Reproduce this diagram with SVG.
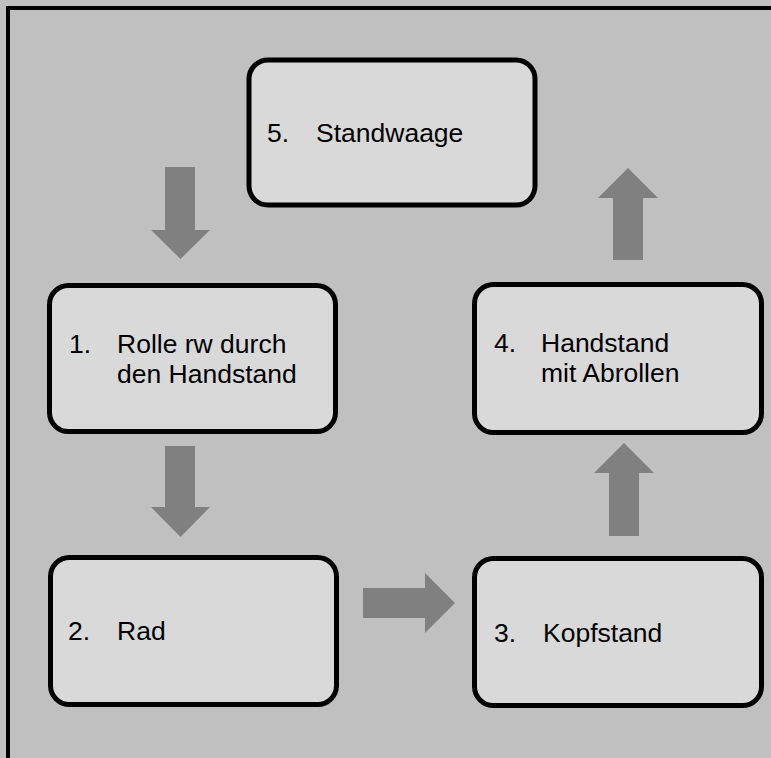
<svg xmlns="http://www.w3.org/2000/svg" width="771" height="758" viewBox="0 0 771 758">
<style>
.box{fill:#d9d9d9;stroke:#000;stroke-width:5}
.arr{fill:#808080}
text{font-family:"Liberation Sans",Arial,sans-serif;font-size:26.5px;fill:#000}
</style>
<rect x="0" y="0" width="771" height="758" fill="#c0c0c0"/>
<rect x="8" y="8" width="800" height="800" fill="#c0c0c0" stroke="#000" stroke-width="4"/>
<g id="connectors">
<polygon class="arr" points="165,167 195,167 195,230 210,230 180.5,259 151,230 165,230"/>
<polygon class="arr" points="165,446 195,446 195,507 210,507 180.5,537 151,507 165,507"/>
<polygon class="arr" points="363,588 425,588 425,573 455,603 425,633 425,618 363,618"/>
<polygon class="arr" points="609,536 639,536 639,473 654,473 624,443 594,473 609,473"/>
<polygon class="arr" points="613,260 643,260 643,198 658,198 628,168 598,198 613,198"/>
</g>
<g id="node5">
<rect class="box" x="249" y="60" width="286" height="145" rx="19"/>
<text x="267" y="142">5.</text>
<text x="316" y="142">Standwaage</text>
</g>
<g id="node1">
<rect class="box" x="49.5" y="285.5" width="286" height="146" rx="19"/>
<text x="69" y="353">1.</text>
<text x="117" y="353">Rolle rw durch</text>
<text x="117" y="383">den Handstand</text>
</g>
<g id="node2">
<rect class="box" x="50.5" y="557.5" width="286" height="147" rx="19"/>
<text x="68" y="640">2.</text>
<text x="117" y="640">Rad</text>
</g>
<g id="node3">
<rect class="box" x="474.5" y="558.5" width="287" height="147" rx="19"/>
<text x="494" y="642">3.</text>
<text x="543" y="642">Kopfstand</text>
</g>
<g id="node4">
<rect class="box" x="474.5" y="284.5" width="287" height="148" rx="19"/>
<text x="494" y="352">4.</text>
<text x="541" y="352">Handstand</text>
<text x="541" y="382">mit Abrollen</text>
</g>
</svg>
